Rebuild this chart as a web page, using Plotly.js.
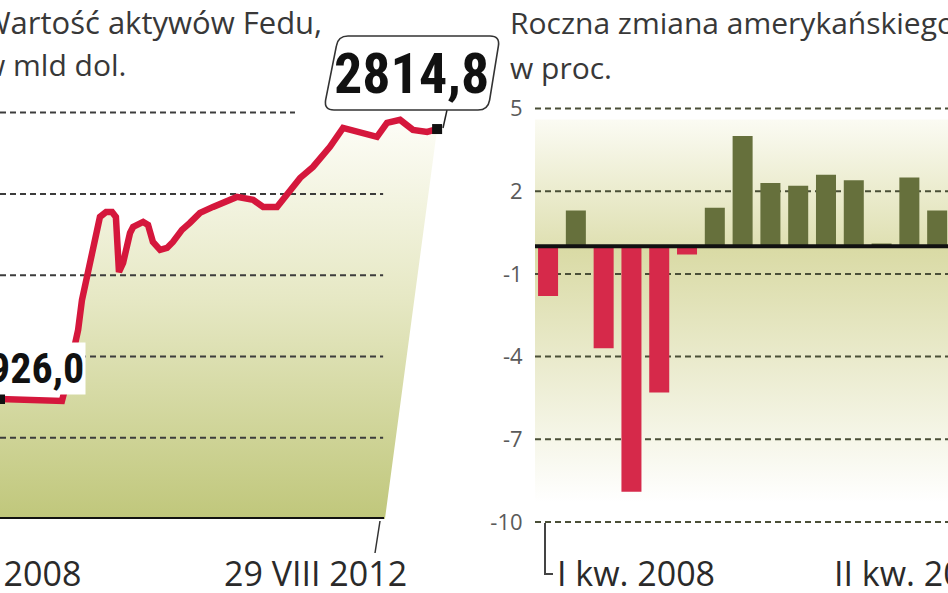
<!DOCTYPE html>
<html>
<head>
<meta charset="utf-8">
<script src="https://cdn.plot.ly/plotly-3.0.1.min.js"></script>
<style>html,body{margin:0;padding:0;background:#fff;}#chart{width:948px;height:593px;}</style>
</head>
<body>
<div id="chart"></div>
<script>
// ---- Left chart: Fed assets, bn USD ----
const fedDates = ['2008-01-02','2008-03-20','2008-06-06','2008-08-30','2008-09-15','2008-10-08','2008-11-01','2008-11-16','2008-12-17',
  '2009-01-25','2009-02-18','2009-03-13','2009-03-28','2009-04-05','2009-04-09','2009-04-25','2009-05-22','2009-06-03','2009-07-12',
  '2009-07-31','2009-08-19','2009-09-16','2009-10-13','2009-11-05','2009-12-10','2010-01-10','2010-02-18','2010-04-10','2010-05-27',
  '2010-07-12','2010-09-13','2010-10-22','2010-12-15','2011-02-04','2011-03-15','2011-05-04','2011-07-09','2011-08-29','2011-09-25',
  '2011-11-03','2011-12-12','2012-01-08','2012-02-16','2012-03-11','2012-04-07','2012-05-27','2012-06-24','2012-07-21','2012-08-29'];
const fedValues = [926.0, 919, 912, 912, 1024, 1199, 1409, 1619, 1864,
  2200, 2235, 2235, 2200, 1934, 1815, 1878, 2088, 2130, 2165,
  2144, 2025, 1969, 1983, 2025, 2109, 2158, 2228, 2270, 2305,
  2340, 2319, 2270, 2270, 2389, 2473, 2550, 2690, 2823, 2809,
  2795, 2767, 2760, 2858, 2872, 2879, 2809, 2802, 2795, 2814.8];
const fedFirstLabel = '926,0';
const fedLastLabel = '2814,8';
const fedStartTick = '2 I 2008';
const fedEndTick = '29 VIII 2012';

// ---- Right chart: annualised quarterly change of US GDP, % ----
const quarters = ['I kw. 2008','II kw. 2008','III kw. 2008','IV kw. 2008','I kw. 2009','II kw. 2009','III kw. 2009','IV kw. 2009',
  'I kw. 2010','II kw. 2010','III kw. 2010','IV kw. 2010','I kw. 2011','II kw. 2011','III kw. 2011'];
const gdpChange = [-1.8, 1.3, -3.7, -8.9, -5.3, -0.3, 1.4, 4.0, 2.3, 2.2, 2.6, 2.4, 0.1, 2.5, 1.3];
const gdpTicks = [-10, -7, -4, -1, 2, 5];
const gdpFirstTick = 'I kw. 2008';
const gdpLastTick = 'II kw. 2012';

// ---- layout helpers ----
const W = 948, H = 593;
const X = px => px / W;
const Y = py => 1 - py / H;

const yMin = 86.5, yMax = 3018;        // left value axis
const gridStep = (yMax - yMin) / 5.155; // spacing of dashed lines
const leftGrid = [1, 2, 3, 4, 5].map(k => yMin + k * gridStep);
const xStart = '2008-01-02', xEnd = '2013-01-04';
const gridEnd = '2012-02-01', gridEndTop = '2011-02-23', fillEnd = '2012-02-08';

const xr = [-0.47, 14.39], yr = [-10.3, 5.3];
const idx = quarters.map((q, i) => i);

const traces = [];
// area under Fed line
traces.push({
  x: fedDates.concat([fillEnd, fedDates[0]]),
  y: fedValues.concat([yMin, yMin]),
  type: 'scatter', mode: 'lines', fill: 'toself', line: {width: 0},
  fillgradient: {type: 'vertical', colorscale: [[0, '#c0c77b'], [0.55, '#e6e8c4'], [1, '#fdfdf7']]},
  hoverinfo: 'skip', xaxis: 'x', yaxis: 'y'
});
// dashed guide lines (left)
leftGrid.forEach((g, k) => traces.push({
  x: [xStart, k === 4 ? gridEndTop : gridEnd], y: [g, g], type: 'scatter', mode: 'lines',
  line: {color: '#3c3c3c', width: 2, dash: '6px,4px'}, hoverinfo: 'skip', xaxis: 'x', yaxis: 'y'
}));
// Fed line
traces.push({
  x: fedDates, y: fedValues, type: 'scatter', mode: 'lines',
  line: {color: '#d5173c', width: 6.5}, xaxis: 'x', yaxis: 'y', name: 'Aktywa Fedu'
});
// end markers
traces.push({
  x: [fedDates[0], fedDates[fedDates.length - 1]], y: [fedValues[0], fedValues[fedValues.length - 1]],
  type: 'scatter', mode: 'markers', marker: {symbol: 'square', size: 10, color: '#111'},
  xaxis: 'x', yaxis: 'y', hoverinfo: 'skip', cliponaxis: false
});

// right chart background gradients
traces.push({
  x: [xr[0], xr[1], xr[1], xr[0]], y: [0, 0, 4.6, 4.6], type: 'scatter', mode: 'lines', fill: 'toself',
  line: {width: 0}, fillgradient: {type: 'vertical', colorscale: [[0, '#dfe0b2'], [1, '#fbfbf3']]},
  hoverinfo: 'skip', xaxis: 'x2', yaxis: 'y2'
});
traces.push({
  x: [xr[0], xr[1], xr[1], xr[0]], y: [0, 0, -9.3, -9.3], type: 'scatter', mode: 'lines', fill: 'toself',
  line: {width: 0}, fillgradient: {type: 'vertical', colorscale: [[0, '#ffffff'], [1, '#d9daa4']]},
  hoverinfo: 'skip', xaxis: 'x2', yaxis: 'y2'
});
// dashed guide lines (right)
gdpTicks.forEach(t => traces.push({
  x: [xr[0], xr[1]], y: [t, t], type: 'scatter', mode: 'lines',
  line: {color: '#4a4f37', width: 2, dash: '6px,4px'}, hoverinfo: 'skip', xaxis: 'x2', yaxis: 'y2'
}));
// bars
traces.push({
  x: idx, y: gdpChange, type: 'bar', width: 0.72, xaxis: 'x2', yaxis: 'y3',
  text: quarters, hovertemplate: '%{text}: %{y}<extra></extra>', textposition: 'none',
  marker: {color: gdpChange.map(v => v >= 0 ? '#66703c' : '#d6294a'), line: {width: 0}}
});

// box around last value
function boxPath() {
  const pts = [[348,36],[490,36],'Q',[500,36],[498.4,45.9],[489.6,100.1],'Q',[488,110],[478,110],[334,110],'Q',[324,110],[325.6,100.1],[336.4,45.9],'Q',[338,36],[348,36]];
  let s = '', cmd = 'M';
  pts.forEach(p => {
    if (p === 'Q') { s += ' Q'; cmd = ''; return; }
    const c = X(p[0]).toFixed(5) + ',' + Y(p[1]).toFixed(5);
    if (cmd === 'M') { s += 'M' + c; cmd = 'L'; }
    else if (cmd === '') { s += ' ' + c; cmd = 'Q2'; }
    else if (cmd === 'Q2') { s += ' ' + c; cmd = 'L'; }
    else { s += ' L' + c; }
  });
  return s + ' Z';
}

const titleFont = {family: 'Open Sans, sans-serif', size: 30, color: '#383838'};
const axisFont = {family: 'Open Sans, sans-serif', size: 34, color: '#2a2a2a'};
const bigFont = {family: 'Liberation Sans Narrow, Roboto Condensed, Roboto, sans-serif', size: 56, color: '#111', weight: 'bold'};

const layout = {
  width: W, height: H, margin: {l: 0, r: 0, t: 0, b: 0},
  paper_bgcolor: '#ffffff', plot_bgcolor: 'rgba(0,0,0,0)', showlegend: false,
  xaxis: {type: 'date', domain: [0, X(470)], range: [xStart, xEnd], visible: false, fixedrange: true},
  yaxis: {domain: [Y(519), Y(100)], range: [yMin, yMax], visible: false, fixedrange: true},
  xaxis2: {domain: [X(535), 1], range: xr, visible: false, anchor: 'y2', fixedrange: true},
  yaxis2: {domain: [Y(530.3), Y(100.2)], range: yr, anchor: 'x2', showgrid: false, zeroline: false, showline: false,
    tickvals: gdpTicks, ticktext: gdpTicks.map(String), ticks: 'outside', ticklen: 7, tickcolor: 'rgba(0,0,0,0)',
    tickfont: {family: 'Open Sans, sans-serif', size: 22, color: '#5a5a5a'}, fixedrange: true},
  yaxis3: {overlaying: 'y2', anchor: 'x2', range: yr, visible: false, fixedrange: true},
  shapes: [
    {type: 'line', xref: 'paper', yref: 'y', x0: 0, x1: X(384), y0: yMin, y1: yMin, line: {color: '#111', width: 4}, layer: 'above'},
    {type: 'line', xref: 'paper', yref: 'paper', x0: X(380), x1: X(375), y0: Y(521), y1: Y(553), line: {color: '#333', width: 1.5}},
    {type: 'line', xref: 'paper', yref: 'paper', x0: X(447), x1: X(443), y0: Y(110), y1: Y(128), line: {color: '#222', width: 1.5}},
    {type: 'path', xref: 'paper', yref: 'paper', path: boxPath(), line: {color: '#333', width: 1.6}, fillcolor: '#ffffff'},
    {type: 'line', xref: 'x2', yref: 'y2', x0: xr[0], x1: xr[1], y0: 0, y1: 0, line: {color: '#111', width: 4}, layer: 'above'},
    {type: 'path', xref: 'paper', yref: 'paper', path: 'M' + X(545) + ',' + Y(523) + ' L' + X(545) + ',' + Y(574) + ' L' + X(553) + ',' + Y(574),
      line: {color: '#444', width: 2}}
  ],
  annotations: [
    {xref: 'paper', yref: 'paper', x: X(-20), y: Y(22), xanchor: 'left', yanchor: 'middle', text: 'Wartość aktywów Fedu,', showarrow: false, font: Object.assign({}, titleFont, {size: 31})},
    {xref: 'paper', yref: 'paper', x: X(-20), y: Y(65), xanchor: 'left', yanchor: 'middle', text: 'w mld dol.', showarrow: false, font: titleFont},
    {xref: 'paper', yref: 'paper', x: X(508), y: Y(23), xanchor: 'left', yanchor: 'middle', text: 'Roczna zmiana amerykańskiego PKB,', showarrow: false, font: titleFont},
    {xref: 'paper', yref: 'paper', x: X(508), y: Y(67), xanchor: 'left', yanchor: 'middle', text: 'w proc.', showarrow: false, font: titleFont},
    {xref: 'paper', yref: 'paper', x: X(411), y: Y(74), xanchor: 'center', yanchor: 'middle', text: fedLastLabel, showarrow: false, font: bigFont},
    {xref: 'paper', yref: 'paper', x: X(86), y: Y(368), xanchor: 'right', yanchor: 'middle', text: fedFirstLabel, showarrow: false,
      font: Object.assign({}, bigFont, {size: 42}), bgcolor: '#ffffff', borderpad: 1},
    {xref: 'paper', yref: 'paper', x: X(83), y: Y(573), xanchor: 'right', yanchor: 'middle', text: fedStartTick, showarrow: false, font: axisFont},
    {xref: 'paper', yref: 'paper', x: X(222), y: Y(573), xanchor: 'left', yanchor: 'middle', text: fedEndTick, showarrow: false, font: axisFont},
    {xref: 'paper', yref: 'paper', x: X(555), y: Y(573), xanchor: 'left', yanchor: 'middle', text: gdpFirstTick, showarrow: false, font: axisFont},
    {xref: 'paper', yref: 'paper', x: X(832), y: Y(573), xanchor: 'left', yanchor: 'middle', text: gdpLastTick, showarrow: false, font: axisFont}
  ]
};

Plotly.newPlot('chart', traces, layout, {displayModeBar: false, staticPlot: true});
</script>
</body>
</html>
